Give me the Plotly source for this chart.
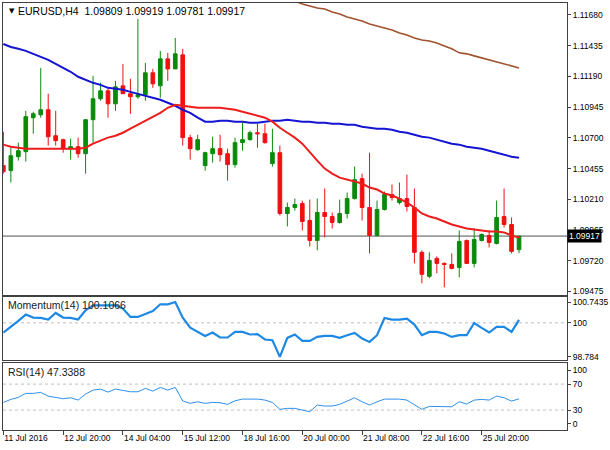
import plotly.graph_objects as go
from plotly.subplots import make_subplots

# ---------------- data ----------------
symbol = "EURUSD,H4"

opens = [
    1.10479, 1.10439, 1.10550, 1.10590, 1.10861, 1.10884, 1.10924, 1.10717, 1.10686, 1.10614,
    1.10630, 1.10574, 1.10845, 1.11012, 1.11075, 1.10972, 1.11115, 1.11052, 1.11028, 1.11044,
    1.11219, 1.11115, 1.11330, 1.11250, 1.11362, 1.10702, 1.10606, 1.10479, 1.10574, 1.10614,
    1.10574, 1.10487, 1.10662, 1.10686, 1.10741, 1.10733, 1.10495, 1.10582, 1.10097, 1.10145,
    1.10177, 1.10041, 1.09882, 1.10105, 1.10073, 1.10025, 1.10097, 1.10216, 1.10375, 1.10145,
    1.09922, 1.10129, 1.10248, 1.10184, 1.10216, 1.10145, 1.09787, 1.09596, 1.09739, 1.09699,
    1.09691, 1.09667, 1.09882, 1.09699, 1.09882, 1.09922, 1.09858, 1.10073, 1.10009, 1.09809,
]
highs = [
    1.10749, 1.10622, 1.10662, 1.10916, 1.10908, 1.11258, 1.11052, 1.10916, 1.10694, 1.10694,
    1.10702, 1.10845, 1.11195, 1.11139, 1.11099, 1.11155, 1.11290, 1.11171, 1.11648, 1.11298,
    1.11250, 1.11394, 1.11378, 1.11497, 1.11410, 1.10725, 1.10725, 1.10590, 1.10709, 1.10725,
    1.10614, 1.10702, 1.10821, 1.10757, 1.10813, 1.10813, 1.10773, 1.10638, 1.10184, 1.10216,
    1.10200, 1.10208, 1.10216, 1.10296, 1.10105, 1.10208, 1.10264, 1.10471, 1.10415, 1.10582,
    1.10200, 1.10272, 1.10328, 1.10344, 1.10407, 1.10296, 1.09803, 1.09787, 1.09755, 1.09707,
    1.09779, 1.09962, 1.09890, 1.09978, 1.09938, 1.09962, 1.10200, 1.10296, 1.10065, 1.09919,
]
lows = [
    1.10415, 1.10344, 1.10519, 1.10511, 1.10733, 1.10861, 1.10638, 1.10638, 1.10582, 1.10527,
    1.10542, 1.10415, 1.10662, 1.10996, 1.10861, 1.10916, 1.11052, 1.10892, 1.11012, 1.10996,
    1.11099, 1.11020, 1.11155, 1.11250, 1.10638, 1.10527, 1.10598, 1.10439, 1.10503, 1.10511,
    1.10359, 1.10463, 1.10598, 1.10678, 1.10622, 1.10654, 1.10471, 1.10081, 1.09994, 1.10121,
    1.09962, 1.09834, 1.09803, 1.09906, 1.09978, 1.10017, 1.10057, 1.10208, 1.10041, 1.09779,
    1.09914, 1.10121, 1.10200, 1.10169, 1.10113, 1.09699, 1.09540, 1.09580, 1.09620, 1.09508,
    1.09651, 1.09588, 1.09699, 1.09667, 1.09874, 1.09826, 1.09850, 1.09986, 1.09779, 1.09781,
]
closes = [
    1.10431, 1.10558, 1.10598, 1.10869, 1.10892, 1.10924, 1.10709, 1.10678, 1.10614, 1.10630,
    1.10574, 1.10845, 1.11012, 1.11075, 1.10972, 1.11107, 1.11052, 1.11028, 1.11044, 1.11219,
    1.11131, 1.11330, 1.11250, 1.11370, 1.10702, 1.10614, 1.10686, 1.10582, 1.10614, 1.10566,
    1.10487, 1.10662, 1.10686, 1.10741, 1.10733, 1.10662, 1.10582, 1.10097, 1.10145, 1.10169,
    1.10033, 1.09882, 1.10105, 1.10073, 1.10025, 1.10097, 1.10216, 1.10367, 1.10145, 1.09922,
    1.10129, 1.10248, 1.10224, 1.10216, 1.10153, 1.09787, 1.09612, 1.09723, 1.09699, 1.09691,
    1.09659, 1.09874, 1.09699, 1.09890, 1.09930, 1.09866, 1.10065, 1.10009, 1.09795, 1.09917,
]

ma_red = [
    1.10646, 1.10630, 1.10622, 1.10614, 1.10614, 1.10614, 1.10614, 1.10614, 1.10614, 1.10614,
    1.10614, 1.10622, 1.10654, 1.10678, 1.10702, 1.10717, 1.10741, 1.10773, 1.10805, 1.10837,
    1.10869, 1.10900, 1.10940, 1.10964, 1.10956, 1.10948, 1.10940, 1.10940, 1.10940, 1.10940,
    1.10932, 1.10924, 1.10908, 1.10892, 1.10877, 1.10861, 1.10829, 1.10781, 1.10741, 1.10702,
    1.10654, 1.10582, 1.10519, 1.10455, 1.10415, 1.10383, 1.10367, 1.10351, 1.10336, 1.10304,
    1.10288, 1.10256, 1.10240, 1.10216, 1.10184, 1.10145, 1.10097, 1.10073, 1.10057, 1.10033,
    1.10009, 1.09994, 1.09978, 1.09970, 1.09962, 1.09954, 1.09954, 1.09946, 1.09922, 1.09906,
]
ma_blue = [
    1.11449, 1.11425, 1.11410, 1.11394, 1.11370, 1.11346, 1.11322, 1.11290, 1.11258, 1.11227,
    1.11187, 1.11163, 1.11139, 1.11123, 1.11099, 1.11091, 1.11083, 1.11067, 1.11052, 1.11036,
    1.11020, 1.11004, 1.10980, 1.10956, 1.10924, 1.10900, 1.10861, 1.10829, 1.10829, 1.10837,
    1.10837, 1.10829, 1.10829, 1.10821, 1.10821, 1.10829, 1.10837, 1.10837, 1.10845, 1.10837,
    1.10829, 1.10829, 1.10821, 1.10821, 1.10813, 1.10813, 1.10805, 1.10805, 1.10789, 1.10781,
    1.10773, 1.10773, 1.10765, 1.10749, 1.10741, 1.10725, 1.10709, 1.10702, 1.10686, 1.10670,
    1.10654, 1.10646, 1.10630, 1.10622, 1.10614, 1.10598, 1.10582, 1.10566, 1.10550, 1.10542,
]
# slow average is above the visible window for the first bars
ma_brown = [None] * 39 + [
    1.11791,
    1.11767, 1.11752, 1.11736, 1.11728, 1.11704, 1.11688, 1.11664, 1.11648, 1.11632, 1.11608,
    1.11592, 1.11577, 1.11561, 1.11537, 1.11521, 1.11497, 1.11481, 1.11473, 1.11457, 1.11433,
    1.11410, 1.11378, 1.11370, 1.11354, 1.11338, 1.11322, 1.11306, 1.11290, 1.11274, 1.11258,
]

momentum = [
    99.653, 99.853, 100.067, 100.295, 100.188, 100.174, 100.117, 100.352, 100.188, 100.174,
    100.117, 100.448, 100.626, 100.626, 100.626, 100.626, 100.508, 100.209, 100.209, 100.330,
    100.423, 100.662, 100.662, 100.7435, 100.181, 99.824, 99.675, 99.532, 99.653, 99.475,
    99.475, 99.675, 99.675, 99.582, 99.593, 99.404, 99.379, 98.784, 99.461, 99.582,
    99.354, 99.354, 99.497, 99.532, 99.532, 99.461, 99.557, 99.639, 99.440, 99.318,
    99.557, 100.174, 100.117, 100.117, 100.152, 99.938, 99.557, 99.675, 99.675, 99.618,
    99.497, 99.557, 99.557, 99.995, 99.817, 99.653, 99.853, 99.853, 99.675, 100.1066,
]
rsi = [
    41.8, 46.4, 49.5, 55.7, 55.7, 57.2, 51.5, 48.9, 47.4, 48.9,
    45.4, 54.6, 60.8, 62.3, 57.7, 62.3, 60.3, 58.2, 58.2, 63.4,
    59.2, 64.9, 60.8, 64.9, 44.0, 40.3, 42.8, 40.3, 41.8, 41.3,
    38.8, 44.3, 46.9, 46.9, 46.9, 45.4, 41.8, 31.1, 32.6, 32.6,
    30.0, 27.4, 37.7, 36.2, 36.2, 38.8, 43.8, 48.9, 42.8, 37.7,
    42.8, 46.9, 46.9, 46.9, 45.4, 38.8, 31.1, 35.6, 35.6, 36.2,
    35.1, 42.8, 39.2, 45.4, 46.4, 45.4, 51.5, 48.9, 43.8, 47.3388,
]

date_labels = ["11 Jul 2016", "12 Jul 20:00", "14 Jul 04:00", "15 Jul 12:00",
               "18 Jul 16:00", "20 Jul 00:00", "21 Jul 08:00", "22 Jul 16:00",
               "25 Jul 20:00"]
bars_per_label = 8

price_ticks = [1.09475, 1.09720, 1.09965, 1.10210, 1.10455,
               1.10700, 1.10945, 1.11190, 1.11435, 1.11680]
mom_ticks = [100.7435, 100.0, 98.784]
mom_ticktext = ["100.7435", "100", "98.784"]
mom_level = 100
rsi_levels = [70, 30]
rsi_ticktext = ["100", "70", "30", "0"]

# ---------------- styling ----------------
GREEN = "#0a8a0a"
RED = "#f01010"
FONT = "Liberation Sans"
BORDER = "#404040"

x = list(range(len(closes)))

fig = make_subplots(rows=3, cols=1, shared_xaxes=True, vertical_spacing=0)

fig.add_trace(go.Candlestick(
    x=x, open=opens, high=highs, low=lows, close=closes,
    increasing=dict(line=dict(color=GREEN, width=1), fillcolor=GREEN),
    decreasing=dict(line=dict(color=RED, width=1), fillcolor=RED),
    whiskerwidth=0, showlegend=False, hoverinfo="skip"), row=1, col=1)

fig.add_trace(go.Scatter(x=x, y=ma_brown, mode="lines",
                         line=dict(color="#a0522d", width=1.6),
                         showlegend=False, hoverinfo="skip"), row=1, col=1)
fig.add_trace(go.Scatter(x=x, y=ma_blue, mode="lines",
                         line=dict(color="#1414d2", width=2),
                         showlegend=False, hoverinfo="skip"), row=1, col=1)
fig.add_trace(go.Scatter(x=x, y=ma_red, mode="lines",
                         line=dict(color="#ee1c1c", width=2),
                         showlegend=False, hoverinfo="skip"), row=1, col=1)

fig.add_trace(go.Scatter(x=x, y=momentum, mode="lines",
                         line=dict(color="#1e88e5", width=2.2),
                         showlegend=False, hoverinfo="skip"), row=2, col=1)
fig.add_trace(go.Scatter(x=x, y=rsi, mode="lines",
                         line=dict(color="#2f8fe8", width=1),
                         showlegend=False, hoverinfo="skip"), row=3, col=1)

# level lines
fig.add_shape(type="line", xref="x2 domain", yref="y2", x0=0, x1=1,
              y0=mom_level, y1=mom_level, layer="below",
              line=dict(color="#c8bcbc", width=1, dash="dot"))
for lv in rsi_levels:
    fig.add_shape(type="line", xref="x3 domain", yref="y3", x0=0, x1=1,
                  y0=lv, y1=lv, layer="below",
                  line=dict(color="#c8bcbc", width=1, dash="dot"))
# current price line
fig.add_shape(type="line", xref="x domain", yref="y", x0=0, x1=1,
              y0=closes[-1], y1=closes[-1], layer="below",
              line=dict(color="#505050", width=1))

# texts
fig.add_annotation(xref="paper", yref="paper", x=0.0075, y=0.9813,
                   text="▼", showarrow=False, xanchor="left", yanchor="middle",
                   font=dict(family="DejaVu Sans", size=7, color="#000000"))
fig.add_annotation(xref="paper", yref="paper", x=0.0235, y=0.9813,
                   text=f"{symbol}  {opens[-1]:.5f} {highs[-1]:.5f} {lows[-1]:.5f} {closes[-1]:.5f}",
                   showarrow=False, xanchor="left", yanchor="middle",
                   font=dict(family=FONT, size=10.5, color="#000000"))
fig.add_annotation(xref="paper", yref="paper", x=0.006, y=0.2921,
                   text=f"Momentum(14) {momentum[-1]:.4f}", showarrow=False,
                   xanchor="left", yanchor="middle",
                   font=dict(family=FONT, size=10.5, color="#202020"))
fig.add_annotation(xref="paper", yref="paper", x=0.006, y=0.1362,
                   text=f"RSI(14) {rsi[-1]:.4f}", showarrow=False,
                   xanchor="left", yanchor="middle",
                   font=dict(family=FONT, size=10.5, color="#202020"))
fig.add_annotation(xref="paper", yref="y", x=1.0, y=closes[-1],
                   text=f"{closes[-1]:.5f}", showarrow=False,
                   xanchor="left", yanchor="middle", bgcolor="#000000",
                   borderpad=1, font=dict(family=FONT, size=8.5, color="#ffffff"))

# axes
axis_common = dict(showgrid=False, zeroline=False, showline=True, mirror=True,
                   linecolor=BORDER, linewidth=1)
x_range = [-0.05, 75.42]
fig.update_xaxes(range=x_range, rangeslider_visible=False, **axis_common)
fig.update_xaxes(showticklabels=False, ticks="", row=1, col=1)
fig.update_xaxes(showticklabels=False, ticks="", row=2, col=1)
fig.update_xaxes(tickmode="array",
                 tickvals=[bars_per_label * k for k in range(len(date_labels))],
                 ticktext=date_labels, ticks="outside", ticklen=4,
                 tickcolor=BORDER, ticklabelposition="outside right",
                 tickfont=dict(family=FONT, size=8.5, color="#000000"),
                 row=3, col=1)

tick_style = dict(side="right", ticks="outside", ticklen=3, tickcolor=BORDER,
                  tickfont=dict(family=FONT, size=8.5, color="#000000"))
fig.update_yaxes(domain=[0.3166, 1.0], range=[1.094486, 1.117755],
                 tickmode="array", tickvals=price_ticks,
                 ticktext=[f"{v:.5f}" for v in price_ticks],
                 **axis_common, **tick_style, row=1, col=1)
fig.update_yaxes(domain=[0.1636, 0.3107], range=[98.666, 100.911],
                 tickmode="array", tickvals=mom_ticks, ticktext=mom_ticktext,
                 **axis_common, **tick_style, row=2, col=1)
fig.update_yaxes(domain=[0.0, 0.1565], range=[-0.77, 102.3],
                 tickmode="array", tickvals=[91.5, 70, 30, 8.5],
                 ticktext=rsi_ticktext,
                 **axis_common, **tick_style, row=3, col=1)

fig.update_layout(width=610, height=450, margin=dict(l=3, r=41, t=2, b=20),
                  paper_bgcolor="#ffffff", plot_bgcolor="#ffffff",
                  showlegend=False, font=dict(family=FONT))

fig.write_html("out.html",
               config={"displayModeBar": False, "staticPlot": True},
               post_script="document.body.style.margin='0';"
                           "document.body.style.overflow='hidden';")
